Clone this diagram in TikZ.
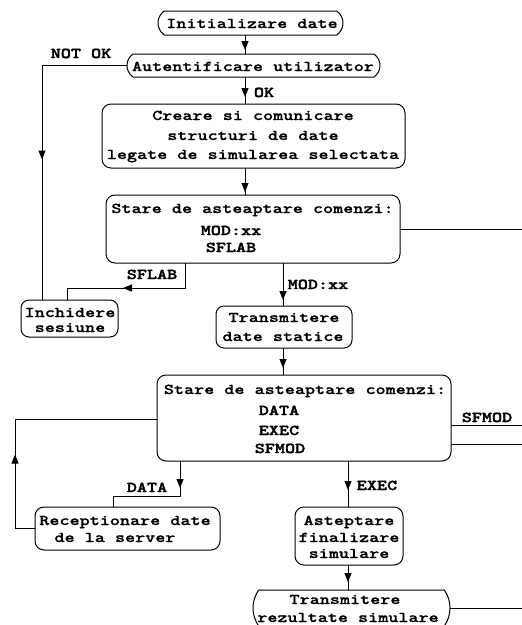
\documentclass[tikz,border=0pt]{standalone}
\usepackage{fontspec}
\newfontfamily\diagfont[FakeStretch=1.28,FakeBold=0.8]{lmmonolt10-bold.otf}
\newfontfamily\diagbold[FakeStretch=1.28,FakeBold=2]{lmmonolt10-bold.otf}
\usetikzlibrary{arrows.meta,decorations.markings,shapes.misc}
\begin{document}
\begin{tikzpicture}[x=1pt,y=-1pt,
  every node/.style={inner sep=0pt, outer sep=0pt},
  box/.style={draw, rounded corners=9pt, line width=1pt},
  pill/.style={draw, rounded rectangle, rounded rectangle arc length=110, line width=1pt},
  txt/.style={anchor=base, font=\diagfont\fontsize{15}{17}\selectfont},
  lbl/.style={anchor=base, font=\diagbold\fontsize{15}{17}\selectfont},
  conn/.style={line width=1pt},
  tipat/.style={postaction={decorate}, decoration={markings, mark=at position #1 with {\arrow{Triangle[width=7pt,length=9pt]}}}},
]
\useasboundingbox (0,0) rectangle (522,625);

% boxes
\node[pill, minimum width=185pt, minimum height=24pt] (init) at (250.5,23) {};
\node[pill, minimum width=253pt, minimum height=23pt] (auth) at (253.5,65.5) {};
\node[box, minimum width=303pt, minimum height=64pt] (creare) at (253.5,136) {};
\node[box, minimum width=294pt, minimum height=68pt] (stare1) at (253,229) {};
\node[box, rounded corners=8pt, minimum width=97pt, minimum height=37pt] (inch) at (69.5,318.5) {};
\node[box, rounded corners=8pt, minimum width=136pt, minimum height=42pt] (trans1) at (284,327) {};
\node[box, minimum width=294pt, minimum height=86pt] (stare2) at (304,418) {};
\node[box, minimum width=185pt, minimum height=43pt] (recep) at (127.5,528.5) {};
\node[box, minimum width=108pt, minimum height=58pt] (ast) at (349,536) {};
\node[pill, rounded rectangle arc length=70, minimum width=197pt, minimum height=36pt] (trans2) at (351.5,608) {};

% texts inside boxes
\node[txt] (t-init) at (252,28) {Initializare date};
\node[txt] (t-auth) at (253,71) {Autentificare utilizator};
\node[txt] (t-cr1) at (253,120) {Creare si comunicare};
\node[txt] (t-cr2) at (253,140) {structuri de date};
\node[txt] (t-cr3) at (253,159) {legate de simularea selectata};
\node[txt] (t-s1h) at (252.5,213) {Stare de asteaptare comenzi:};
\node[lbl] (t-s1a) at (231,235) {MOD:xx};
\node[lbl] (t-s1b) at (231,252) {SFLAB};
\node[txt] (t-in1) at (70,317) {Inchidere};
\node[txt] (t-in2) at (70,332) {sesiune};
\node[txt] (t-tr1) at (284,322) {Transmitere};
\node[txt] (t-tr2) at (283,341) {date statice};
\node[txt] (t-s2h) at (305,394) {Stare de asteaptare comenzi:};
\node[lbl] (t-s2a) at (279,415) {DATA};
\node[lbl] (t-s2b) at (279,435) {EXEC};
\node[lbl] (t-s2c) at (280,453) {SFMOD};
\node[txt] (t-re1) at (125,525) {Receptionare date};
\node[txt] (t-re2) at (115,542) {de la server};
\node[txt] (t-as1) at (349,525) {Asteptare};
\node[txt] (t-as2) at (349,542) {finalizare};
\node[txt] (t-as3) at (349,558) {simulare};
\node[txt] (t-t21) at (345,604) {Transmitere};
\node[txt] (t-t22) at (348,622) {rezultate simulare};

% connector labels
\node[lbl] (l-notok) at (81,58) {NOT OK};
\node[lbl] (l-ok) at (264,97) {OK};
\node[lbl] (l-sflab) at (152,279) {SFLAB};
\node[lbl] (l-mod) at (318,289) {MOD:xx};
\node[lbl] (l-data) at (147,492) {DATA};
\node[lbl] (l-exec) at (377,490) {EXEC};
\node[lbl] (l-sfmod) at (487,422) {SFMOD};

% routing coordinates
\coordinate (cx1) at (245,0);
\coordinate (cx2) at (42,0);
\coordinate (cx3) at (185,0);
\coordinate (cx4) at (67,0);
\coordinate (cx5) at (283,0);
\coordinate (cx6) at (180,0);
\coordinate (cx7) at (113,0);
\coordinate (cx8) at (15,0);
\coordinate (cx9) at (348,0);
\coordinate (cy1) at (0,288);
\coordinate (cy2) at (0,496);
\coordinate (cy3) at (0,419);
\coordinate (cyB) at (0,425);
\coordinate (cyC) at (0,444);
\coordinate (redge) at (522,0);

% connectors
\draw[conn, tipat=15pt] (init.south -| cx1) -- (auth.north -| cx1);
\draw[conn, tipat=20pt] (auth.south -| cx1) -- (creare.north -| cx1);
\draw[conn, tipat=179pt] (auth.west) -| (inch.north -| cx2);
\draw[conn, tipat=24pt] (creare.south -| cx1) -- (stare1.north -| cx1);
\draw[conn, tipat=87pt] (stare1.south -| cx3) |- (cy1 -| cx4) -- (inch.north -| cx4);
\draw[conn, tipat=37pt] (stare1.south -| cx5) -- (trans1.north -| cx5);
\draw[conn, tipat=20pt] (trans1.south -| cx5) -- (stare2.north -| cx5);
\draw[conn, tipat=27pt] (stare2.south -| cx6) |- (cy2 -| cx7) -- (recep.north -| cx7);
\draw[conn, tipat=94pt] (recep.west) -| (cy3 -| cx8) -- (stare2.west |- cy3);
\draw[conn, tipat=29pt] (stare2.south -| cx9) -- (ast.north -| cx9);
\draw[conn, tipat=17pt] (ast.south -| cx9) -- (trans2.north -| cx9);
\draw[conn] (stare1.east) -- (stare1.east -| redge);
\draw[conn] (stare2.east |- cyB) -- (redge |- cyB);
\draw[conn] (stare2.east |- cyC) -- (redge |- cyC);
\draw[conn] (trans2.east) -- (trans2.east -| redge);
\end{tikzpicture}
\end{document}
